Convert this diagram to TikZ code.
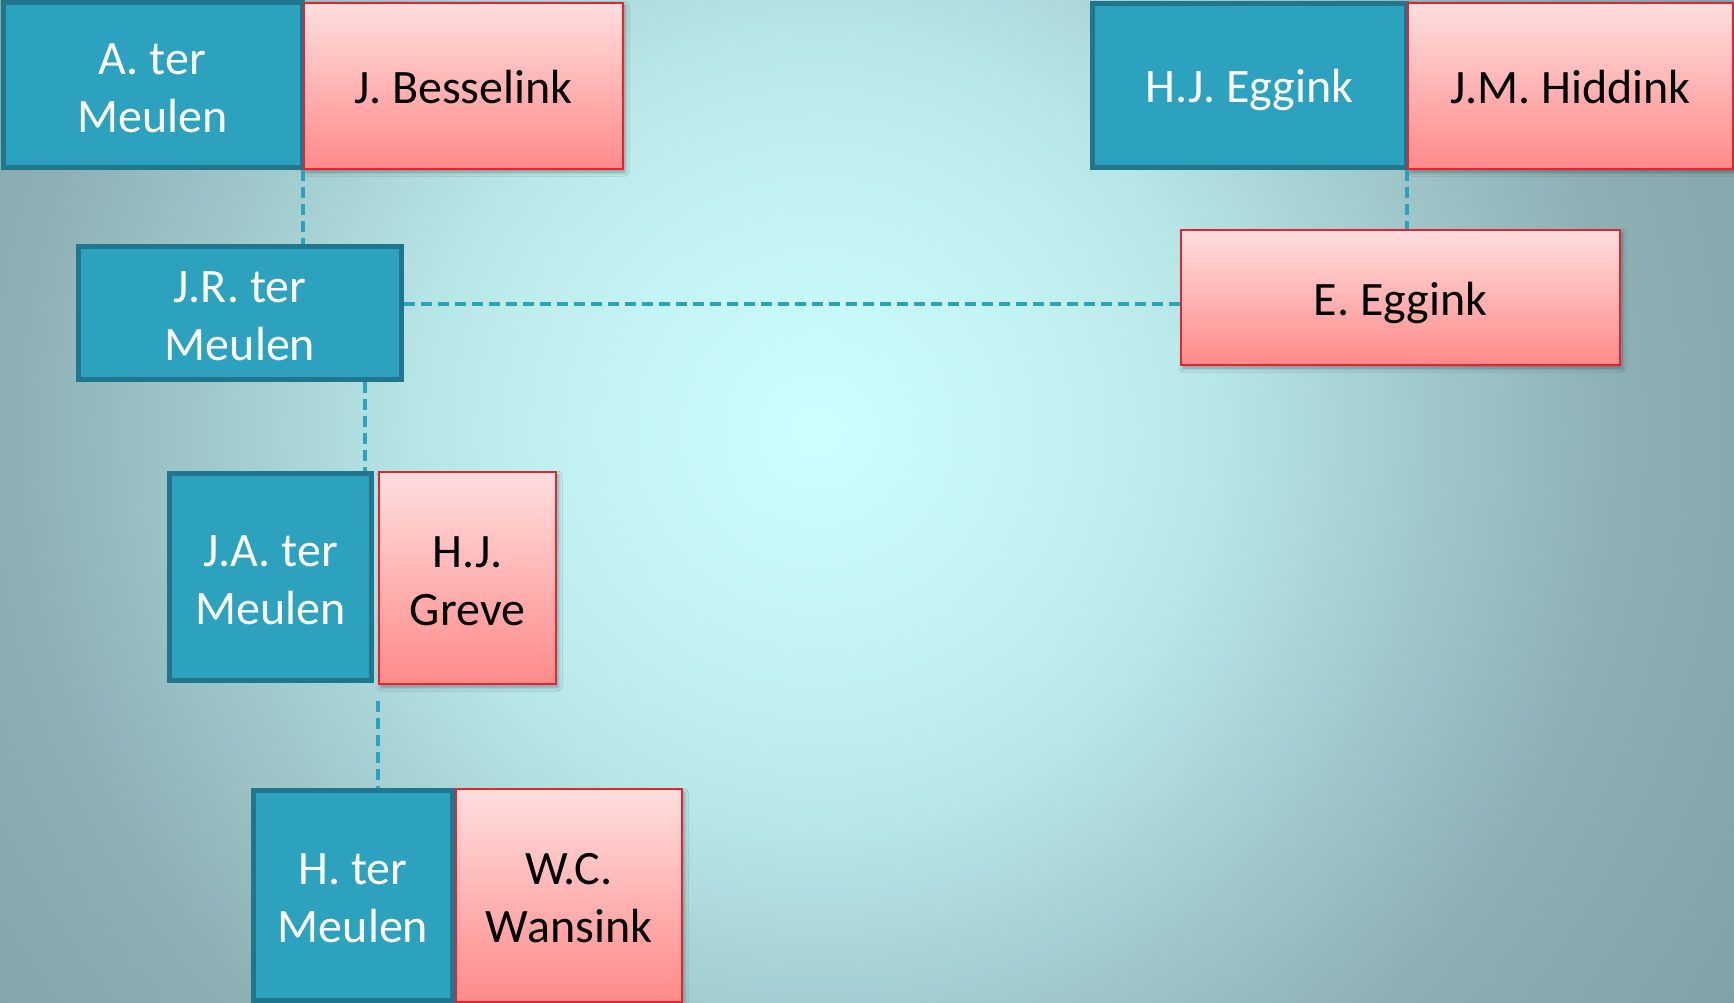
\documentclass[tikz,border=0pt]{standalone}
\usepackage{fontspec}
\setmainfont{Carlito}
\usetikzlibrary{shadows.blur}
\definecolor{bgA}{HTML}{CCFFFF}
\definecolor{bgB}{HTML}{C0EEEE}
\definecolor{bgC}{HTML}{B7E6E7}
\definecolor{bgD}{HTML}{A1CACD}
\definecolor{bgE}{HTML}{8DB0B5}
\definecolor{bgF}{HTML}{80A0A5}
\definecolor{blueFill}{HTML}{2DA2BF}
\definecolor{blueEdge}{HTML}{21758C}
\definecolor{pinkTop}{HTML}{FFDEDE}
\definecolor{pinkBot}{HTML}{FF8A8A}
\definecolor{pinkEdge}{HTML}{E52431}
\pgfdeclareradialshading{bgshade}{\pgfpoint{0bp}{0bp}}{color(0bp)=(bgA); color(6.8bp)=(bgB); color(9.1bp)=(bgC); color(13.6bp)=(bgD); color(18.2bp)=(bgE); color(25bp)=(bgF); color(50bp)=(bgF)}
\newcommand{\firststrut}{\rule{0pt}{37pt}}
\tikzset{
  namefont/.style={font=\fontsize{48}{58}\selectfont, align=center, inner sep=0pt},
  oneline/.style={text height=35pt, text depth=0pt},
  bluebox/.style={namefont, rectangle, fill=blueFill, draw=blueEdge, line width=5pt, text=white},
  pinkbox/.style={namefont, rectangle, top color=pinkTop, bottom color=pinkBot, draw=pinkEdge, line width=2.2pt, text=black,
    blur shadow={shadow xshift=2pt, shadow yshift=-3pt, shadow blur radius=4pt, shadow opacity=35}},
  link/.style={draw=blueFill, line width=3.5pt, dash pattern=on 11pt off 6pt},
}
\begin{document}
\begin{tikzpicture}[x=1pt,y=-1pt]
\useasboundingbox (0,0) rectangle (1734,1003);
\begin{scope}
  \clip (0,0) rectangle (1734,1003);
  \shade[shading=bgshade] (818,431) circle (1100);
\end{scope}

% blue boxes
\node[bluebox, minimum width=299pt, minimum height=165pt] (A) at (152.5,85.5) {\firststrut A. ter\\Meulen};
\node[bluebox, oneline, minimum width=314pt, minimum height=164pt] (HJE) at (1249.5,85.5) {H.J. Eggink};
\node[bluebox, minimum width=323pt, minimum height=133pt] (JR) at (240,313) {\firststrut J.R. ter\\Meulen};
\node[bluebox, minimum width=202pt, minimum height=207pt] (JA) at (270.5,577) {\firststrut J.A. ter\\Meulen};
\node[bluebox, minimum width=199pt, minimum height=210pt] (HT) at (353,895.5) {\firststrut H. ter\\Meulen};

% pink boxes
\node[pinkbox, oneline, minimum width=319pt, minimum height=166pt] (JB) at (463.5,86) {J. Besselink};
\node[pinkbox, oneline, minimum width=325pt, minimum height=166pt] (JMH) at (1570.5,86) {J.M. Hiddink};
\node[pinkbox, oneline, minimum width=439pt, minimum height=135pt] (EE) at (1400.5,297.5) {E. Eggink};
\node[pinkbox, minimum width=177pt, minimum height=212pt] (HJG) at (467.5,578) {\firststrut H.J.\\Greve};
\node[pinkbox, minimum width=226pt, minimum height=213pt] (WC) at (569,895.5) {\firststrut W.C.\\Wansink};

% connectors
\coordinate (jrx) at (365,0);
\coordinate (hy) at (0,304);
\path[link] (JB.south west) -- (JB.south west |- JR.north);
\path[link] (JR.east |- hy) -- (EE.west |- hy);
\path[link] (JR.south -| jrx) -- (JA.north -| jrx);
\path[link] (JMH.south west) -- (JMH.south west |- EE.north);
\path[link] ([yshift=-16pt]HJG.south west) -- (HJG.south west |- HT.north);
\end{tikzpicture}
\end{document}
